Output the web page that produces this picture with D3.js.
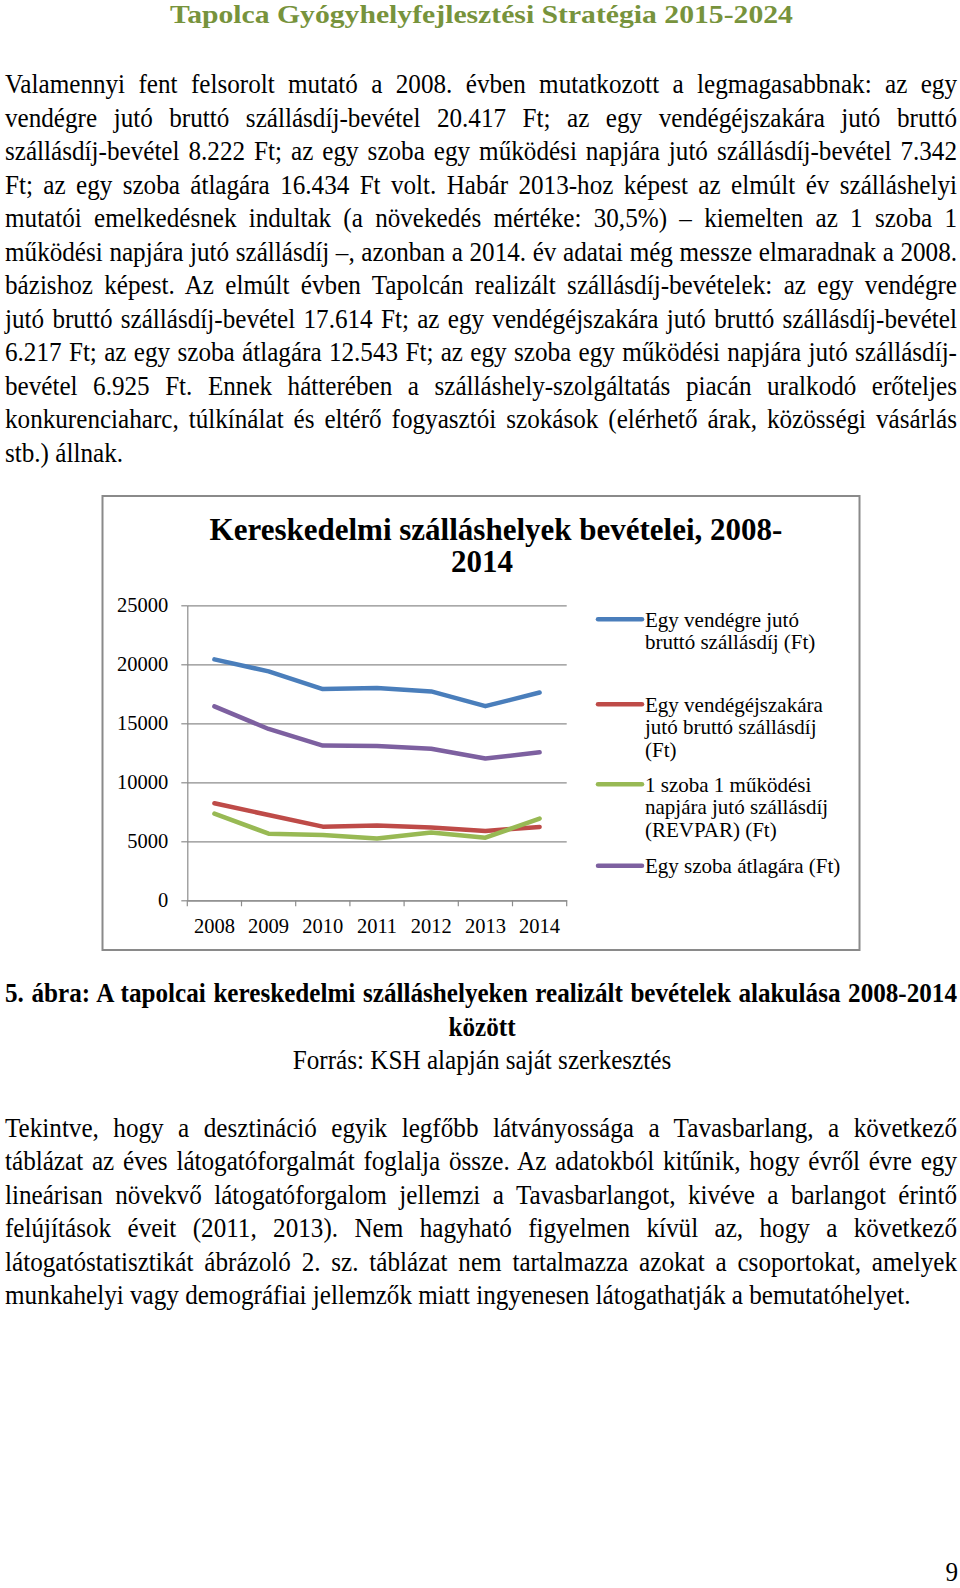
<!DOCTYPE html>
<html><head><meta charset="utf-8">
<script src="https://cdn.jsdelivr.net/npm/d3@7"></script>
<style>
html,body{margin:0;padding:0;background:#fff;}
svg{display:block;}
</style>
</head><body>
<svg id="page" width="960" height="1588"></svg>
<script>
// ---------------- DATA ----------------
const years = ["2008","2009","2010","2011","2012","2013","2014"];
const perGuest = [20417, 19400, 17900, 18000, 17700, 16450, 17614];
const perNight = [8222, 7230, 6240, 6330, 6160, 5880, 6217];
const revpar   = [7342, 5650, 5540, 5230, 5740, 5310, 6925];
const roomAvg  = [16434, 14520, 13110, 13080, 12850, 12010, 12543];
const yTicks = [0, 5000, 10000, 15000, 20000, 25000];
const seriesNames = [
  ["Egy vendégre jutó","bruttó szállásdíj (Ft)"],
  ["Egy vendégéjszakára","jutó bruttó szállásdíj","(Ft)"],
  ["1 szoba 1 működési","napjára jutó szállásdíj","(REVPAR) (Ft)"],
  ["Egy szoba átlagára (Ft)"]
];
const seriesValues = [perGuest, perNight, revpar, roomAvg];
const seriesColors = ["#4a7ebb", "#be4b48", "#98b954", "#7d60a0"];
const chartTitle = ["Kereskedelmi szálláshelyek bevételei, 2008-", "2014"];

const headerText = "Tapolca Gyógyhelyfejlesztési Stratégia 2015-2024";
const para1 = [
  "Valamennyi fent felsorolt mutató a 2008. évben mutatkozott a legmagasabbnak: az egy",
  "vendégre jutó bruttó szállásdíj-bevétel 20.417 Ft; az egy vendégéjszakára jutó bruttó",
  "szállásdíj-bevétel 8.222 Ft; az egy szoba egy működési napjára jutó szállásdíj-bevétel 7.342",
  "Ft; az egy szoba átlagára 16.434 Ft volt. Habár 2013-hoz képest az elmúlt év szálláshelyi",
  "mutatói emelkedésnek indultak (a növekedés mértéke: 30,5%) – kiemelten az 1 szoba 1",
  "működési napjára jutó szállásdíj –, azonban a 2014. év adatai még messze elmaradnak a 2008.",
  "bázishoz képest. Az elmúlt évben Tapolcán realizált szállásdíj-bevételek: az egy vendégre",
  "jutó bruttó szállásdíj-bevétel 17.614 Ft; az egy vendégéjszakára jutó bruttó szállásdíj-bevétel",
  "6.217 Ft; az egy szoba átlagára 12.543 Ft; az egy szoba egy működési napjára jutó szállásdíj-",
  "bevétel 6.925 Ft. Ennek hátterében a szálláshely-szolgáltatás piacán uralkodó erőteljes",
  "konkurenciaharc, túlkínálat és eltérő fogyasztói szokások (elérhető árak, közösségi vásárlás",
  "stb.) állnak."
];
const captionText = ["5. ábra: A tapolcai kereskedelmi szálláshelyeken realizált bevételek alakulása 2008-2014", "között"];
const sourceText = "Forrás: KSH alapján saját szerkesztés";
const para2 = [
  "Tekintve, hogy a desztináció egyik legfőbb látványossága a Tavasbarlang, a következő",
  "táblázat az éves látogatóforgalmát foglalja össze. Az adatokból kitűnik, hogy évről évre egy",
  "lineárisan növekvő látogatóforgalom jellemzi a Tavasbarlangot, kivéve a barlangot érintő",
  "felújítások éveit (2011, 2013). Nem hagyható figyelmen kívül az, hogy a következő",
  "látogatóstatisztikát ábrázoló 2. sz. táblázat nem tartalmazza azokat a csoportokat, amelyek",
  "munkahelyi vagy demográfiai jellemzők miatt ingyenesen látogathatják a bemutatóhelyet."
];
const pageNumber = "9";

// ---------------- LAYOUT ----------------
const svg = d3.select("#page");
svg.append("rect").attr("width",960).attr("height",1588).attr("fill","#fff");

const SERIF = "'Liberation Serif','Times New Roman',serif";
const BODY_FS = 27;
const LEFT = 5, RIGHT = 957, LINE = 33.5;

// horizontal compression so the unjustified last line matches the reference width
const probe = svg.append("text").attr("font-family",SERIF).attr("font-size",BODY_FS).text(para2[para2.length-1]);
const sx = 906 / probe.node().getComputedTextLength();
probe.remove();

function line(str, x, y, mode, opts = {}) {
  const s = opts.sx || sx;
  const t = svg.append("text")
    .attr("font-family", SERIF)
    .attr("font-size", opts.fs || BODY_FS)
    .attr("font-weight", opts.bold ? "bold" : "normal")
    .attr("fill", opts.color || "#000")
    .attr("transform", `translate(${x},${y}) scale(${s},1)`)
    .style("white-space","pre")
    .text(str);
  if (mode === "center") t.attr("text-anchor","middle");
  if (mode === "justify") {
    const w = t.node().getComputedTextLength();
    const n = (str.match(/ /g) || []).length;
    const target = (RIGHT - x) / s;
    if (n > 0) t.style("word-spacing", ((target - w) / n) + "px");
  }
  return t;
}

// header (fit to reference width)
const HFS = 25;
const hp = svg.append("text").attr("font-family",SERIF).attr("font-size",HFS).attr("font-weight","bold").text(headerText);
const sxH = 623 / hp.node().getComputedTextLength();
hp.remove();
line(headerText, 481.5, 22.5, "center", {bold:true, color:"#77933c", fs:HFS, sx:sxH});

// paragraph 1
para1.forEach((s,i) => line(s, LEFT, 93 + i*LINE, i === para1.length-1 ? "left" : "justify"));

// caption
line(captionText[0], LEFT, 1002, "justify", {bold:true});
line(captionText[1], 482, 1035.5, "center", {bold:true});
line(sourceText, 482, 1068.5, "center");

// paragraph 2
para2.forEach((s,i) => line(s, LEFT, 1136.5 + i*LINE, i === para2.length-1 ? "left" : "justify"));

// page number
svg.append("text").attr("font-family",SERIF).attr("font-size",BODY_FS)
  .attr("text-anchor","end").attr("transform",`translate(958,1581) scale(${sx},1)`).text(pageNumber);

// ---------------- CHART ----------------
const chart = svg.append("g");
chart.append("rect").attr("x",102.5).attr("y",496).attr("width",757).attr("height",454)
  .attr("fill","#fff").attr("stroke","#8a8a8a").attr("stroke-width",2);

chart.selectAll("text.title").data(chartTitle).join("text")
  .attr("class","title")
  .attr("x",(d,i)=> i===0 ? 496 : 482)
  .attr("y",(d,i)=> 540 + i*31.7)
  .attr("text-anchor","middle")
  .attr("font-family",SERIF).attr("font-weight","bold").attr("font-size",31)
  .text(d=>d);

const x0 = 187.3, x1 = 566.7, yBot = 900.3, yTop = 605.3;
const x = d3.scaleBand().domain(years).range([x0, x1]).padding(0);
const y = d3.scaleLinear().domain([0, 25000]).range([yBot, yTop]);
const gridColor = "#8c8c8c";

// gridlines
const grid = chart.append("g").attr("transform",`translate(${x0},0)`)
  .call(d3.axisLeft(y).tickValues(yTicks).tickSizeInner(-(x1-x0)).tickSizeOuter(0).tickFormat(""));
grid.select(".domain").remove();
grid.selectAll("line").attr("stroke",gridColor).attr("stroke-width",1.2);

// y axis with outward ticks + labels
const yAxis = chart.append("g").attr("transform",`translate(${x0},0)`)
  .call(d3.axisLeft(y).tickValues(yTicks).tickSizeInner(6).tickSizeOuter(0).tickPadding(13).tickFormat(d3.format("d")));
yAxis.select(".domain").attr("stroke",gridColor).attr("stroke-width",1.2);
yAxis.selectAll("line").attr("stroke",gridColor).attr("stroke-width",1.2);
yAxis.selectAll("text").attr("font-family",SERIF).attr("font-size",20.5).attr("fill","#000");

// x axis: labels at band centres, ticks at band boundaries
const xAxis = chart.append("g").attr("transform",`translate(0,${yBot})`)
  .call(d3.axisBottom(x).tickSize(0).tickPadding(18));
xAxis.select(".domain").attr("stroke",gridColor).attr("stroke-width",1.2);
xAxis.selectAll("text").attr("font-family",SERIF).attr("font-size",20.5).attr("fill","#000");
const bounds = years.map(d => x(d)).concat([x(years[years.length-1]) + x.bandwidth()]);
xAxis.selectAll("line.bt").data(bounds).join("line").attr("class","bt")
  .attr("x1",d=>d).attr("x2",d=>d).attr("y1",0).attr("y2",6)
  .attr("stroke",gridColor).attr("stroke-width",1.2);

// series lines
const lineGen = d3.line().x((d,i)=> x(years[i]) + x.bandwidth()/2).y(d=>y(d));
chart.selectAll("path.series").data(seriesValues).join("path")
  .attr("class","series")
  .attr("d", d=>lineGen(d))
  .attr("fill","none")
  .attr("stroke",(d,i)=>seriesColors[i])
  .attr("stroke-width",4.5)
  .attr("stroke-linejoin","round")
  .attr("stroke-linecap","round");

// legend
const legendFirstBaseline = [626.7, 711.7, 791.7, 873.3];
const legendLineH = 22.7;
const lg = chart.append("g");
seriesNames.forEach((lines, i) => {
  const by = legendFirstBaseline[i];
  lg.append("line").attr("x1",598).attr("x2",642).attr("y1",by-7.5).attr("y2",by-7.5)
    .attr("stroke",seriesColors[i]).attr("stroke-width",4.5).attr("stroke-linecap","round");
  lines.forEach((s,j) => {
    lg.append("text").attr("x",645).attr("y",by + j*legendLineH)
      .attr("font-family",SERIF).attr("font-size",21).text(s);
  });
});
</script>
</body></html>
